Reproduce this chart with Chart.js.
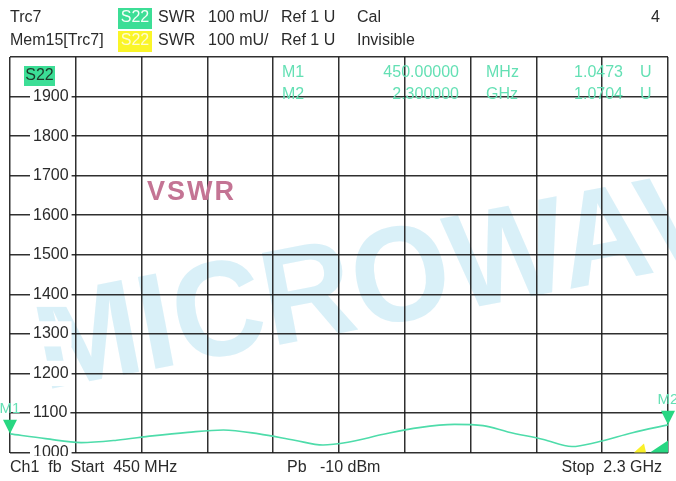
<!DOCTYPE html>
<html>
<head>
<meta charset="utf-8">
<script src="https://cdn.jsdelivr.net/npm/chart.js@4"></script>
<style>
  body { margin: 0; background: #fff; }
  #wrap { width: 676px; height: 481px; }
</style>
</head>
<body>
<div id="wrap"><canvas id="swr-chart" width="676" height="481"></canvas></div>
<script>
// Trace data (SWR in mU, frequency in MHz)
const freqMHz = [450, 550, 650, 750, 850, 950, 1050, 1150, 1250, 1330, 1400, 1500, 1600, 1700, 1780, 1850, 1950, 2030, 2100, 2200, 2300];
const swrMilli = [1047, 1035, 1025, 1031, 1042, 1051, 1057, 1047, 1031, 1019, 1026, 1046, 1063, 1071, 1068, 1052, 1033, 1015, 1026, 1050, 1070];

// Markers
const markerNames = ['M1', 'M2'];
const markerFreqs = [450, 2300];
const markerVals = [1047.3, 1070.4];
const markerFreqText = ['450.00000', '2.300000'];
const markerUnitText = ['MHz', 'GHz'];
const markerValText = ['1.0473', '1.0704'];

// Axis range
const xStart = 450, xStop = 2300;
const yMin = 1000, yMax = 2000, yStep = 100;

const FONT = '"Liberation Sans", Arial, sans-serif';
const traceColor = 'rgb(78, 220, 170)';
const markerColor = 'rgb(40, 215, 130)';
const tableColor = 'rgb(100, 224, 180)';
const textColor = '#2a2a2a';

function txt(ctx, s, x, y, color, align) {
    ctx.fillStyle = color;
    ctx.textAlign = align || 'left';
    ctx.fillText(s, x, y);
}

const screenDecor = {
    id: 'screenDecor',
    beforeDraw(chart) {
        const ctx = chart.ctx;
        // watermark under the grid
        ctx.save();
        ctx.translate(44, 390);
        ctx.rotate(-0.19);
        ctx.scale(1.07, 1.15);
        ctx.font = 'bold 118px ' + FONT;
        ctx.fillStyle = 'rgba(180, 225, 242, 0.5)';
        ctx.textAlign = 'left';
        ctx.textBaseline = 'alphabetic';
        ctx.fillText('MICROWAVE', 0, 0);
        ctx.restore();
    },
    afterDatasetsDraw(chart) {
        const ctx = chart.ctx;
        const xs = chart.scales.x, ys = chart.scales.y;
        ctx.save();
        ctx.textBaseline = 'middle';
        // marker triangles, tip on the trace
        markerFreqs.forEach((f, i) => {
            const px = xs.getPixelForValue(f);
            const py = ys.getPixelForValue(markerVals[i]);
            ctx.fillStyle = markerColor;
            ctx.beginPath();
            ctx.moveTo(px, py);
            ctx.lineTo(px - 7, py - 14);
            ctx.lineTo(px + 7, py - 14);
            ctx.closePath();
            ctx.fill();
            ctx.font = '15px ' + FONT;
            txt(ctx, markerNames[i], px, py - 25, tableColor, 'center');
        });
        // little off-screen indicators at lower right
        const bx = xs.getPixelForValue(xStop), by = ys.getPixelForValue(yMin);
        ctx.fillStyle = 'rgb(250, 240, 40)';
        ctx.beginPath();
        ctx.moveTo(bx - 34, by); ctx.lineTo(bx - 24, by - 9); ctx.lineTo(bx - 22, by); ctx.closePath(); ctx.fill();
        ctx.fillStyle = markerColor;
        ctx.beginPath();
        ctx.moveTo(bx - 18, by); ctx.lineTo(bx, by - 12); ctx.lineTo(bx, by); ctx.closePath(); ctx.fill();
        ctx.restore();
    },
    afterDraw(chart) {
        const ctx = chart.ctx;
        ctx.save();
        ctx.textBaseline = 'middle';
        ctx.font = '16px ' + FONT;

        // header rows
        txt(ctx, 'Trc7', 10, 18, textColor);
        txt(ctx, 'Mem15[Trc7]', 10, 41, textColor);
        ctx.fillStyle = 'rgb(60, 222, 150)';
        ctx.fillRect(118, 8, 34, 21);
        ctx.fillStyle = 'rgb(250, 245, 40)';
        ctx.fillRect(118, 31, 34, 21);
        txt(ctx, 'S22', 135, 18, '#f4fff8', 'center');
        txt(ctx, 'S22', 135, 41, '#fffbd0', 'center');
        [18, 41].forEach(y => {
            txt(ctx, 'SWR', 158, y, textColor);
            txt(ctx, '100 mU/', 208, y, textColor);
            txt(ctx, 'Ref 1 U', 281, y, textColor);
        });
        txt(ctx, 'Cal', 357, 18, textColor);
        txt(ctx, 'Invisible', 357, 41, textColor);
        txt(ctx, '4', 660, 18, textColor, 'right');

        // trace badge inside the grid
        ctx.fillStyle = 'rgb(60, 222, 150)';
        ctx.fillRect(24, 66, 31, 20);
        txt(ctx, 'S22', 39.5, 76, '#1d3a2a', 'center');

        // marker table
        markerNames.forEach((m, i) => {
            const y = 73 + i * 22;
            txt(ctx, m, 282, y, tableColor);
            txt(ctx, markerFreqText[i], 459, y, tableColor, 'right');
            txt(ctx, markerUnitText[i], 486, y, tableColor);
            txt(ctx, markerValText[i], 623, y, tableColor, 'right');
            txt(ctx, 'U', 640, y, tableColor);
        });

        // VSWR label
        ctx.font = 'bold 27px ' + FONT;
        ctx.letterSpacing = '2px';
        txt(ctx, 'VSWR', 147, 193, 'rgb(196, 116, 148)');
        ctx.letterSpacing = '0px';

        // footer strip covers the lower half of the bottom tick label
        ctx.fillStyle = '#fff';
        ctx.fillRect(0, 456, chart.width, chart.height - 456);
        ctx.font = '16px ' + FONT;
        txt(ctx, 'Ch1  fb  Start  450 MHz', 10, 468, textColor);
        txt(ctx, 'Pb   -10 dBm', 287, 468, textColor);
        txt(ctx, 'Stop  2.3 GHz', 662, 468, textColor, 'right');
        ctx.restore();
    }
};

const ctxSwr = document.getElementById('swr-chart').getContext('2d');
new Chart(ctxSwr, {
    type: 'line',
    data: {
        datasets: [
            {
                label: 'Trc7 S22 SWR',
                data: freqMHz.map((f, i) => ({ x: f, y: swrMilli[i] })),
                borderColor: traceColor,
                borderWidth: 1.6,
                pointRadius: 0,
                fill: false,
                cubicInterpolationMode: 'monotone'
            }
        ]
    },
    options: {
        responsive: false,
        animation: false,
        layout: { padding: { left: 10, right: 8, top: 57, bottom: 28.5 } },
        plugins: {
            legend: { display: false },
            tooltip: { enabled: false }
        },
        scales: {
            x: {
                type: 'linear',
                min: xStart,
                max: xStop,
                afterFit: s => { s.height = 0; },
                ticks: { display: false, stepSize: (xStop - xStart) / 10 },
                grid: { color: 'rgba(25,25,25,0.9)', lineWidth: 1.5, drawTicks: false },
                border: { display: false }
            },
            y: {
                min: yMin,
                max: yMax,
                // labels sit inside the grid, so the axis takes no room
                afterFit: s => { s.width = 0; s.paddingTop = 0; s.paddingBottom = 0; },
                ticks: {
                    stepSize: yStep,
                    mirror: true,
                    padding: 23,
                    color: textColor,
                    font: { family: FONT, size: 16 },
                    showLabelBackdrop: c => c.tick && c.tick.value < yMax,
                    backdropColor: '#fff',
                    backdropPadding: 3,
                    callback: v => (v >= yMax ? '' : String(v))
                },
                grid: { color: 'rgba(25,25,25,0.9)', lineWidth: 1.5, drawTicks: false },
                border: { display: false }
            }
        }
    },
    plugins: [screenDecor]
});
</script>
</body>
</html>
